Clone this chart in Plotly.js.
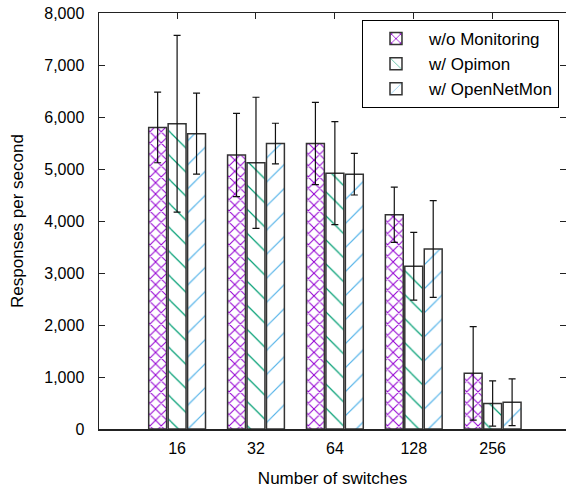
<!DOCTYPE html>
<html>
<head>
<meta charset="utf-8">
<script src="https://cdn.plot.ly/plotly-3.0.1.min.js"></script>
<style>html,body{margin:0;padding:0;background:#fff;}#chart{width:567px;height:488px;}</style>
</head>
<body>
<div id="chart"></div>
<script>
const categories = ["16", "32", "64", "128", "256"];
const seriesNames = ["w/o Monitoring", "w/ Opimon", "w/ OpenNetMon"];
const woMonitoring = [5800, 5270, 5490, 4120, 1070];
const woMonitoringErr = [680, 800, 790, 530, 900];
const opimon = [5870, 5120, 4920, 3130, 490];
const opimonErr = [1700, 1260, 990, 650, 435];
const openNetMon = [5680, 5490, 4900, 3460, 515];
const openNetMonErr = [780, 390, 400, 930, 450];
const yTicks = [0, 1000, 2000, 3000, 4000, 5000, 6000, 7000, 8000];

const FONT = "Liberation Sans, Arial, sans-serif";
function bar(name, y, err, shape, color, size, solidity) {
  return {
    type: "bar", name: name, x: categories, y: y,
    marker: {color: "white", line: {color: "#333", width: 1.5},
             pattern: {shape: shape, fgcolor: color, bgcolor: "white", size: size, solidity: solidity,
                       fillmode: "replace", fgopacity: 1}},
    error_y: {type: "data", array: err, visible: true, color: "#111", thickness: 1.2, width: 3.5},
    hoverinfo: "skip"
  };
}
const data = [
  bar(seriesNames[0], woMonitoring, woMonitoringErr, "x", "#9400D3", 8, 0.24),
  bar(seriesNames[1], opimon, opimonErr, "\\", "#009E73", 17, 0.07),
  bar(seriesNames[2], openNetMon, openNetMonErr, "/", "#56B4E9", 17, 0.07),
  {type: "scatter", x: categories, y: woMonitoring, xaxis: "x2", yaxis: "y2", mode: "none", showlegend: false, hoverinfo: "skip"}
];
const xr = [-0.99, 4.93];
const layout = {
  width: 567, height: 488,
  margin: {l: 99, r: 1, t: 13, b: 59},
  paper_bgcolor: "white", plot_bgcolor: "white",
  font: {family: FONT, size: 16, color: "#000"},
  barmode: "group", bargap: 0.26, bargroupgap: 0.08,
  showlegend: true,
  legend: {x: 0.985, xanchor: "right", y: 0.983, yanchor: "top",
           bgcolor: "white", bordercolor: "#000", borderwidth: 1,
           font: {family: FONT, size: 17, color: "#000"}, itemwidth: 56, tracegroupgap: 0},
  xaxis: {type: "category", categoryarray: categories, range: xr, showgrid: false, zeroline: false,
          showline: true, linecolor: "#222", linewidth: 1.5, ticks: "", tickfont: {size: 16},
          ticklabelstandoff: 4,
          title: {text: "Number of switches", font: {size: 17}, standoff: 16}, automargin: false},
  xaxis2: {type: "category", categoryarray: categories, range: xr, overlaying: "x", side: "top", anchor: "y",
           showgrid: false, zeroline: false, showline: true, linecolor: "#222", linewidth: 1.5,
           ticks: "inside", ticklen: 6, tickcolor: "#222", showticklabels: false},
  yaxis: {range: [0, 8000], tickvals: yTicks, tickformat: ",d", showgrid: false, zeroline: false,
          showline: true, linecolor: "#222", linewidth: 1.5, ticks: "inside", ticklen: 6, tickcolor: "#222",
          tickfont: {size: 16}, ticklabelstandoff: 10,
          title: {text: "Responses per second", font: {size: 17}, standoff: 16}, automargin: false},
  yaxis2: {range: [0, 8000], tickvals: yTicks, overlaying: "y", side: "right", anchor: "x",
           showgrid: false, zeroline: false, showline: false, ticks: "inside", ticklen: 6, tickcolor: "#222",
           showticklabels: false}
};
Plotly.newPlot("chart", data, layout, {staticPlot: true, displayModeBar: false});
</script>
</body>
</html>
